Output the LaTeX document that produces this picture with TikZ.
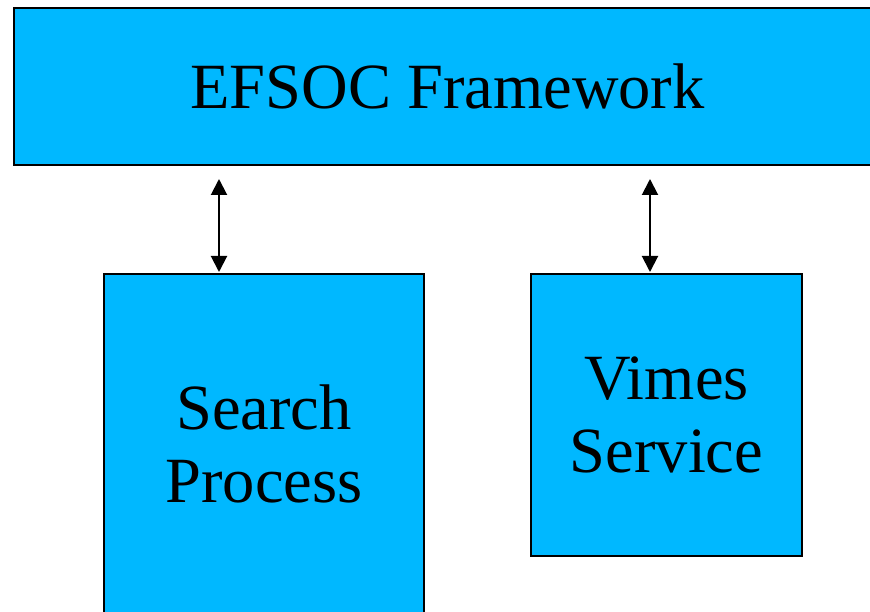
\documentclass[tikz,border=0pt]{standalone}
\usepackage{fontspec}
\setmainfont{Liberation Serif}
\usetikzlibrary{arrows.meta}
\definecolor{boxblue}{RGB}{0,184,255}
\tikzset{
  block/.style={draw=black, line width=2pt, fill=boxblue, inner sep=0pt,
    align=center, font=\fontsize{64.5}{73}\selectfont},
  link/.style={line width=2pt, {Triangle[width=16pt,length=16pt]}-{Triangle[width=16pt,length=16pt]}}
}
\begin{document}
\begin{tikzpicture}[x=1pt,y=1pt]
  \useasboundingbox (0,0) rectangle (870,-612);
  \node[block, minimum width=867pt, minimum height=157pt] (efsoc) at (447.5,-86.5) {EFSOC Framework};
  \node[block, minimum width=320pt, minimum height=340pt] (search) at (264,-444) {Search\\Process};
  \node[block, minimum width=271pt, minimum height=282pt] (vimes) at (666.5,-415) {Vimes\\Service};
  \draw[link, shorten <=13pt, shorten >=1pt]
    ([xshift=-45pt]search.north |- efsoc.south) -- ([xshift=-45pt]search.north);
  \draw[link, shorten <=13pt, shorten >=1pt]
    ([xshift=-16.5pt]vimes.north |- efsoc.south) -- ([xshift=-16.5pt]vimes.north);
\end{tikzpicture}
\end{document}
